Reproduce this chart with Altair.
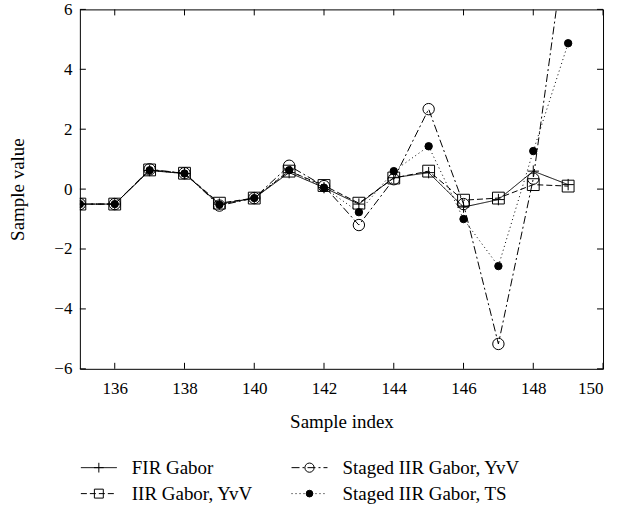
import altair as alt
import pandas as pd

# ---------------- data ----------------
sample_index = list(range(135, 150))
series_names = ["FIR Gabor", "IIR Gabor, YvV", "Staged IIR Gabor, YvV", "Staged IIR Gabor, TS"]
fir_gabor = [-0.5, -0.5, 0.62, 0.52, -0.5, -0.3, 0.55, 0.05, -0.5, 0.38, 0.55, -0.6, -0.35, 0.6, 0.15]
iir_gabor_yvv = [-0.5, -0.5, 0.64, 0.53, -0.47, -0.3, 0.6, 0.12, -0.47, 0.37, 0.6, -0.37, -0.3, 0.15, 0.1]
staged_iir_yvv = [-0.5, -0.5, 0.66, 0.53, -0.55, -0.3, 0.78, 0.1, -1.2, 0.33, 2.67, -0.5, -5.17, 0.35, 8.9]
staged_iir_ts = [-0.5, -0.5, 0.63, 0.52, -0.52, -0.3, 0.63, 0.05, -0.77, 0.6, 1.43, -1.0, -2.57, 1.27, 4.87]
x_ticks = [136, 138, 140, 142, 144, 146, 148, 150]
y_ticks = [-6, -4, -2, 0, 2, 4, 6]
legend_col = [0, 0, 1, 1]
legend_row = [0, 1, 0, 1]

series_values = [fir_gabor, iir_gabor_yvv, staged_iir_yvv, staged_iir_ts]
rows = []
for name, vals in zip(series_names, series_values):
    for xi, v in zip(sample_index, vals):
        rows.append({"series": name, "index": xi, "value": v})
df = pd.DataFrame(rows)

# ---------------- styles ----------------
FONT = "Liberation Serif"
TICK_FS = 17
TEXT_FS = 19
W, H = 524, 360
PLUS = "M-1,0L1,0M0,-1L0,1"
styles = {
    "FIR Gabor": dict(dash=[1, 0], shape=PLUS, fill="transparent", size=130, lsize=95),
    "IIR Gabor, YvV": dict(dash=[6, 3], shape="square", fill="transparent", size=140, lsize=80),
    "Staged IIR Gabor, YvV": dict(dash=[8, 3, 2, 3], shape="circle", fill="transparent", size=130, lsize=85),
    "Staged IIR Gabor, TS": dict(dash=[1, 3], shape="circle", fill="black", size=55, lsize=45),
}
dash_scale = alt.Scale(domain=series_names, range=[styles[s]["dash"] for s in series_names])

x_enc = alt.X("index:Q",
              scale=alt.Scale(domain=[135, 150], nice=False, zero=False),
              axis=alt.Axis(values=x_ticks, title="Sample index", ticks=False, grid=False,
                            domain=False, labelPadding=12, titlePadding=16, format="d"))
y_enc = alt.Y("value:Q",
              scale=alt.Scale(domain=[-6, 6], nice=False),
              axis=alt.Axis(values=y_ticks, title="Sample value", ticks=False, grid=False,
                            domain=False, labelPadding=8, titlePadding=26))

base = alt.Chart(df)
lines = base.mark_line(color="black", strokeWidth=1, clip=True).encode(
    x=x_enc, y=y_enc,
    strokeDash=alt.StrokeDash("series:N", scale=dash_scale, legend=None),
    detail="series:N",
)
point_layers = []
for s in series_names:
    st = styles[s]
    point_layers.append(
        base.transform_filter(alt.datum.series == s).mark_point(
            shape=st["shape"], fill=st["fill"], size=st["size"], stroke="black",
            strokeWidth=1, opacity=1, clip=True,
        ).encode(x=alt.X("index:Q"), y=alt.Y("value:Q"))
    )

xt = pd.DataFrame({"t": x_ticks})
yt = pd.DataFrame({"t": y_ticks})
tick_len = 6
ticks = [
    alt.Chart(xt).mark_rule(color="black", strokeWidth=1).encode(
        x=alt.X("t:Q"), y=alt.value(H), y2=alt.value(H - tick_len)),
    alt.Chart(xt).mark_rule(color="black", strokeWidth=1).encode(
        x=alt.X("t:Q"), y=alt.value(0), y2=alt.value(tick_len)),
    alt.Chart(yt).mark_rule(color="black", strokeWidth=1).encode(
        y=alt.Y("t:Q"), x=alt.value(0), x2=alt.value(tick_len)),
    alt.Chart(yt).mark_rule(color="black", strokeWidth=1).encode(
        y=alt.Y("t:Q"), x=alt.value(W), x2=alt.value(W - tick_len)),
]

main = alt.layer(lines, *point_layers, *ticks).properties(width=W, height=H)

# ---------------- legend panel ----------------
leg = pd.DataFrame({"series": series_names, "col": legend_col, "row": legend_row})
COL_X = [1, 212]
SEG = 36
TXT = 51
leg_base = alt.Chart(leg).transform_calculate(
    x0=f"datum.col == 0 ? {COL_X[0]} : {COL_X[1]}",
).transform_calculate(
    x1=f"datum.x0 + {SEG}", xm=f"datum.x0 + {SEG / 2}", xt=f"datum.x0 + {TXT}",
    ry="datum.row + 0.5",
)
lx = alt.Scale(domain=[0, W], nice=False, zero=False)
ly = alt.Scale(domain=[0, 2], reverse=True, nice=False, zero=False)
leg_lines = leg_base.mark_rule(color="black", strokeWidth=1).encode(
    x=alt.X("x0:Q", scale=lx, axis=None), x2="x1:Q",
    y=alt.Y("ry:Q", scale=ly, axis=None),
    strokeDash=alt.StrokeDash("series:N", scale=dash_scale, legend=None),
)
leg_pts = []
for s in series_names:
    st = styles[s]
    leg_pts.append(
        leg_base.transform_filter(alt.datum.series == s).mark_point(
            shape=st["shape"], fill=st["fill"], size=st["lsize"], stroke="black",
            strokeWidth=1, opacity=1,
        ).encode(x=alt.X("xm:Q", scale=lx, axis=None), y=alt.Y("ry:Q", scale=ly, axis=None))
    )
leg_txt = leg_base.mark_text(align="left", baseline="middle", font=FONT, fontSize=TEXT_FS,
                             color="black").encode(
    x=alt.X("xt:Q", scale=lx, axis=None), y=alt.Y("ry:Q", scale=ly, axis=None),
    text="series:N",
)
legend_panel = alt.layer(leg_lines, *leg_pts, leg_txt).properties(
    width=W, height=52, view=alt.ViewConfig(stroke=None))

chart = alt.vconcat(main, legend_panel, spacing=22).resolve_scale(
    x="independent", y="independent", strokeDash="shared"
).properties(
    padding={"left": 8, "top": -1, "right": 18, "bottom": 0},
    background="white",
).configure_view(stroke="black", strokeWidth=1).configure_axis(
    labelFont=FONT, titleFont=FONT, labelFontSize=TICK_FS, titleFontSize=TEXT_FS,
    labelColor="black", titleColor="black", titleFontWeight="normal",
)

chart.save("out.html", embed_options={"renderer": "svg", "actions": False})
